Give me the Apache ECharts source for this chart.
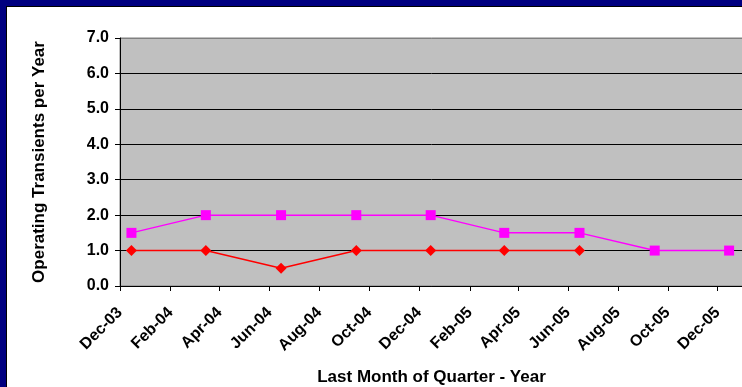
<!DOCTYPE html>
<html><head><meta charset="utf-8">
<script src="https://cdn.jsdelivr.net/npm/echarts@6/dist/echarts.min.js"></script>
<style>
html,body{margin:0;padding:0;background:#000080;width:742px;height:387px;overflow:hidden}
#frame{position:absolute;left:6px;top:6px;width:736px;height:381px;background:#000;}
#c{position:absolute;left:1px;top:1px;width:735px;height:380px;background:#fff}
</style></head>
<body><div id="frame"><div id="c"></div></div>
<script>
// Quarter-end points (plotted mid-month)
const quarterDates = ['2003-12-15','2004-03-15','2004-06-15','2004-09-15','2004-12-15','2005-03-15','2005-06-15','2005-09-15','2005-12-15'];
const magentaValues = [1.5, 2.0, 2.0, 2.0, 2.0, 1.5, 1.5, 1.0, 1.0];
const redValues = [1.0, 1.0, 0.5, 1.0, 1.0, 1.0, 1.0];
const tickDates = ['2003-12-01','2004-02-01','2004-04-01','2004-06-01','2004-08-01','2004-10-01','2004-12-01','2005-02-01','2005-04-01','2005-06-01','2005-08-01','2005-10-01','2005-12-01'];
const monthNames = ['Jan','Feb','Mar','Apr','May','Jun','Jul','Aug','Sep','Oct','Nov','Dec'];
const axisMin = '2003-12-01';
const axisMax = '2006-01-01';
const yTitle = 'Operating Transients per Year';
const xTitle = 'Last Month of Quarter - Year';

const DAY = 86400000;
const ts = s => { const p = s.split('-').map(Number); return Date.UTC(p[0], p[1]-1, p[2]) / DAY; };
const magentaData = quarterDates.map((d,i) => [ts(d), magentaValues[i]]);
const redData = redValues.map((v,i) => [ts(quarterDates[i]), v]);
const tickVals = tickDates.map(ts);
const font = 'Liberation Sans, Arial, sans-serif';
const fmtDate = v => { const d = new Date(Math.round(v) * DAY); return monthNames[d.getUTCMonth()] + '-' + String(d.getUTCFullYear()).slice(2); };

const chart = echarts.init(document.getElementById('c'), null, {renderer:'canvas'});
chart.setOption({
  animation: false,
  backgroundColor: '#ffffff',
  grid: {left: 113, top: 31, right: -1, bottom: 101, outerBoundsMode: 'none', containLabel: false, show: true, backgroundColor: '#C0C0C0', borderColor: '#808080', borderWidth: 1},
  xAxis: {
    type: 'value', min: ts(axisMin), max: ts(axisMax),
    name: xTitle, nameLocation: 'middle', nameGap: 83,
    nameTextStyle: {fontFamily: font, fontWeight: 'bold', fontSize: 17, color: '#000'},
    axisLine: {show: true, onZero: false, lineStyle: {color: '#000', width: 1}},
    axisTick: {show: true, length: 5, customValues: tickVals, lineStyle: {color: '#000'}},
    axisLabel: {rotate: 45, margin: 24, customValues: tickVals, fontFamily: font, fontWeight: 'bold', fontSize: 16, color: '#000', formatter: fmtDate},
    splitLine: {show: false}
  },
  yAxis: {
    type: 'value', min: 0, max: 7, interval: 1,
    name: yTitle, nameLocation: 'middle', nameGap: 72,
    nameTextStyle: {fontFamily: font, fontWeight: 'bold', fontSize: 17, color: '#000'},
    axisLine: {show: true, onZero: false, lineStyle: {color: '#000', width: 1}},
    axisTick: {show: true, length: 5, lineStyle: {color: '#000'}},
    axisLabel: {margin: 11, fontFamily: font, fontWeight: 'bold', fontSize: 16, color: '#000', formatter: v => v.toFixed(1)},
    splitLine: {show: true, lineStyle: {color: ['#000','#000','#000','#000','#000','#000','#000','#808080'], width: 1}}
  },
  series: [
    {type: 'line', data: magentaData, symbol: 'rect', symbolSize: 10, lineStyle: {color: '#FF00FF', width: 1.5}, itemStyle: {color: '#FF00FF'}, z: 3},
    {type: 'line', data: redData, symbol: 'diamond', symbolSize: 11, lineStyle: {color: '#FF0000', width: 1.5}, itemStyle: {color: '#FF0000'}, z: 4}
  ]
});
</script></body></html>
